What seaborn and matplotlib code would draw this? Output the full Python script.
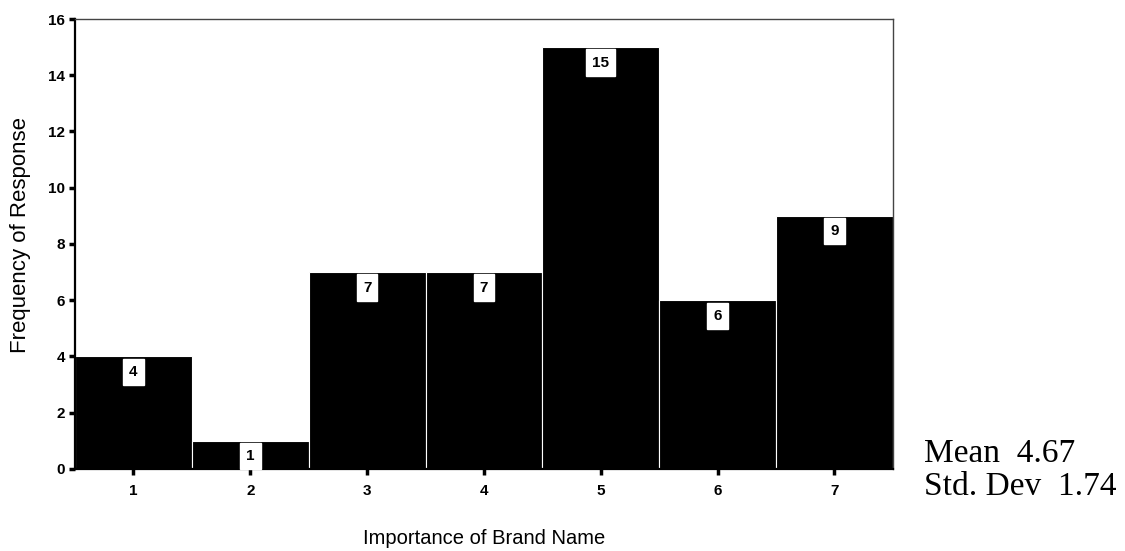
import matplotlib
matplotlib.use("Agg")
import matplotlib.pyplot as plt
import seaborn as sns
import pandas as pd

# Response categories and their frequencies
importance = ["1", "2", "3", "4", "5", "6", "7"]
frequency = [4, 1, 7, 7, 15, 6, 9]
y_ticks = [0, 2, 4, 6, 8, 10, 12, 14, 16]
mean_value = 4.67
std_dev = 1.74

sns.set_theme(style="white")
plt.rcParams["font.family"] = ["Liberation Sans", "DejaVu Sans"]
plt.rcParams["text.color"] = "black"
plt.rcParams["axes.labelcolor"] = "black"
plt.rcParams["xtick.color"] = "black"
plt.rcParams["ytick.color"] = "black"

df = pd.DataFrame({"importance": importance, "frequency": frequency})

fig = plt.figure(figsize=(11.25, 5.51), dpi=100)
ax = fig.add_axes([0.0667, 0.149, 0.727, 0.8165])

sns.barplot(data=df, x="importance", y="frequency", color="black",
            width=1.0, edgecolor="white", linewidth=0.8, saturation=1, ax=ax)

ax.set_ylim(0, 16)
ax.set_xlim(-0.5, len(importance) - 0.5)
ax.set_yticks(y_ticks)
ax.set_yticklabels([str(t) for t in y_ticks], fontsize=11, fontweight="bold")
ax.set_xticks(range(len(importance)))
ax.set_xticklabels(importance, fontsize=11, fontweight="bold")
ax.tick_params(axis="y", length=4, width=2.5, direction="out", pad=3)
ax.tick_params(axis="x", length=4, width=2.5, direction="out", pad=7)
ax.tick_params(left=True, bottom=True)

ax.set_ylabel("Frequency of Response", fontsize=16)
ax.yaxis.set_label_coords(-0.054, 0.52)
ax.set_xlabel("Importance of Brand Name", fontsize=14.5, labelpad=22)

for side in ["left", "bottom"]:
    ax.spines[side].set_color("black")
    ax.spines[side].set_linewidth(1.6)
for side in ["top", "right"]:
    ax.spines[side].set_color("#444444")
    ax.spines[side].set_linewidth(1.0)

# Value labels in white boxes just under each bar top
for i, v in enumerate(frequency):
    ax.text(i, v - 0.55, str(v), ha="center", va="center", fontsize=11,
            fontweight="bold", color="black",
            bbox=dict(boxstyle="square,pad=0.4", facecolor="white",
                      edgecolor="white"))

fig.text(0.821, 0.147, f"Mean  {mean_value:.2f}\nStd. Dev  {std_dev:.2f}",
         fontsize=24, family=["Liberation Serif", "DejaVu Serif"],
         ha="left", va="center", linespacing=1.1)

fig.savefig("out.png", dpi=100, facecolor="white")
